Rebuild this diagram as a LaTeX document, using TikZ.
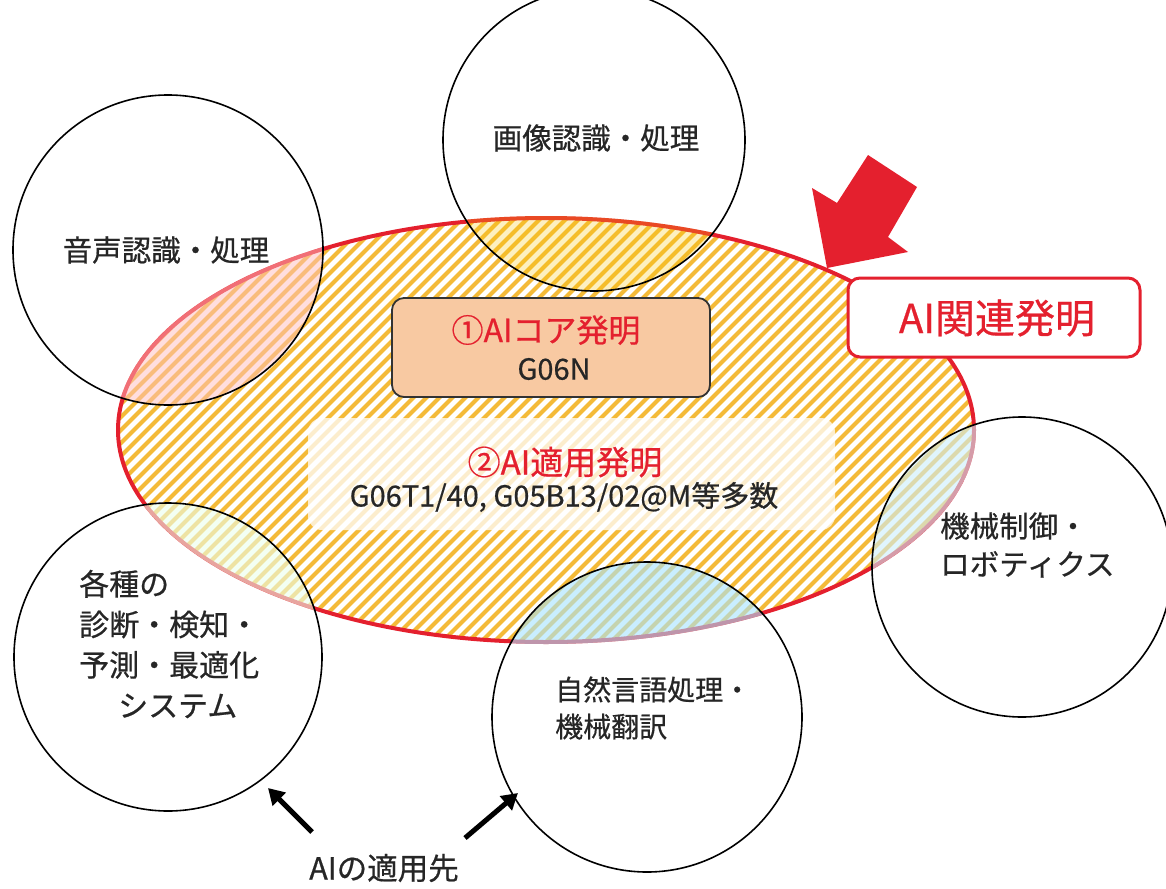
\documentclass[tikz,border=0pt]{standalone}
\usepackage{fontspec}
\setmainfont{Noto Sans CJK JP}[FakeBold=0.6]
\usetikzlibrary{arrows.meta}
\definecolor{aired}{HTML}{E4202E}
\definecolor{stripe}{HTML}{F4BA38}
\definecolor{corefill}{HTML}{F8C9A2}
\tikzset{
  circ/.style={draw=black, line width=1.6pt},
  ctext/.style={font=\fontsize{29.5}{38}\selectfont, text=black!85, inner sep=0pt},
  pointer/.style={draw=black, line width=5pt, -{Triangle[length=16pt,width=18pt]}},
  hatch/.style={stripe, line width=4.2pt},
}
\begin{document}
\begin{tikzpicture}[x=1pt,y=-1pt]
\useasboundingbox (0,0) rectangle (1166,888);
% ellipse with stripes
\fill[white] (546,430) ellipse [x radius=428, y radius=212];
\begin{scope}
  \clip (546,430) ellipse [x radius=428, y radius=212];
  \foreach \c in {330,343,...,1630} {
    \draw[hatch] (\c-660,660) -- (\c-200,200);
  }
\end{scope}
% light area behind item 2
\fill[white, opacity=0.75, rounded corners=14pt] (308,418) rectangle (835,530);
\draw[aired, line width=4pt] (546,430) ellipse [x radius=428, y radius=212];
% overlap tints
\begin{scope}
  \clip (546,430) ellipse [x radius=430, y radius=214];
  \fill[red!25, opacity=0.5] (168,250) circle [radius=155];
  \fill[yellow!60!orange, opacity=0.25] (594,140) circle [radius=151];
  \fill[cyan!20, opacity=0.6] (1022,567) circle [radius=150];
  \fill[green!8, opacity=0.6] (168,657) circle [radius=154];
  \fill[blue!30!cyan!35, opacity=0.6] (647,717) circle [radius=155];
\end{scope}
% circles
\draw[circ] (594,140) circle [radius=151];
\draw[circ] (168,250) circle [radius=155];
\draw[circ] (1022,567) circle [radius=150];
\draw[circ] (168,657) circle [radius=154];
\draw[circ] (647,717) circle [radius=155];
\node[ctext] (img) at (596,138) {画像認識・処理};
\node[ctext] (voice) at (166,250) {音声認識・処理};
\node[ctext, anchor=west, align=left] (robot) at (940,545) {機械制御・\\ロボティクス};
\node[ctext, anchor=west, align=left, font=\fontsize{30}{40.5}\selectfont] (diag) at (79,644) {各種の\\診断・検知・\\予測・最適化\\\hspace*{1.3em}システム};
\node[ctext, anchor=west, align=left, font=\fontsize{28}{37}\selectfont] (nlp) at (555,708) {自然言語処理・\\機械翻訳};
% core box
\node[draw=black!80, line width=1.8pt, fill=corefill, rounded corners=12pt,
      minimum width=318pt, minimum height=99pt] (core) at (551,347.5) {};
\node[text=aired, font=\fontsize{32}{32}\selectfont, inner sep=0pt] (coret) at (546,330) {①AIコア発明};
\node[text=black!85, font=\fontsize{29}{29}\selectfont, inner sep=0pt] (corec) at (554,369) {G06N};
% applied
\node[text=aired, font=\fontsize{33}{33}\selectfont, inner sep=0pt] (appt) at (565,462) {②AI適用発明};
\node[text=black!85, font=\fontsize{29}{29}\selectfont, inner sep=0pt] (appc) at (564,497) {G06T1/40, G05B13/02@M等多数};
% AI related label
\node[draw=aired, line width=3pt, fill=white, rounded corners=12pt,
      minimum width=292pt, minimum height=79pt] (rel) at (994,317.5) {};
\node[text=aired, font=\fontsize{40}{40}\selectfont, inner sep=0pt] (relt) at (997,318) {AI関連発明};
% big red arrow
\fill[aired] (868,155) -- (917,187) -- (888,237) -- (908,252) -- (827,268) -- (812,188) -- (837,203) -- cycle;
% pointers
\coordinate (p1s) at (312,832);
\coordinate (p1e) at (268,788);
\coordinate (p2s) at (465,838);
\coordinate (p2e) at (518,793);
\draw[pointer] (p1s) -- (p1e);
\draw[pointer] (p2s) -- (p2e);
\node[ctext, font=\fontsize{30.5}{30.5}\selectfont] (dest) at (384,868) {AIの適用先};
\end{tikzpicture}
\end{document}
